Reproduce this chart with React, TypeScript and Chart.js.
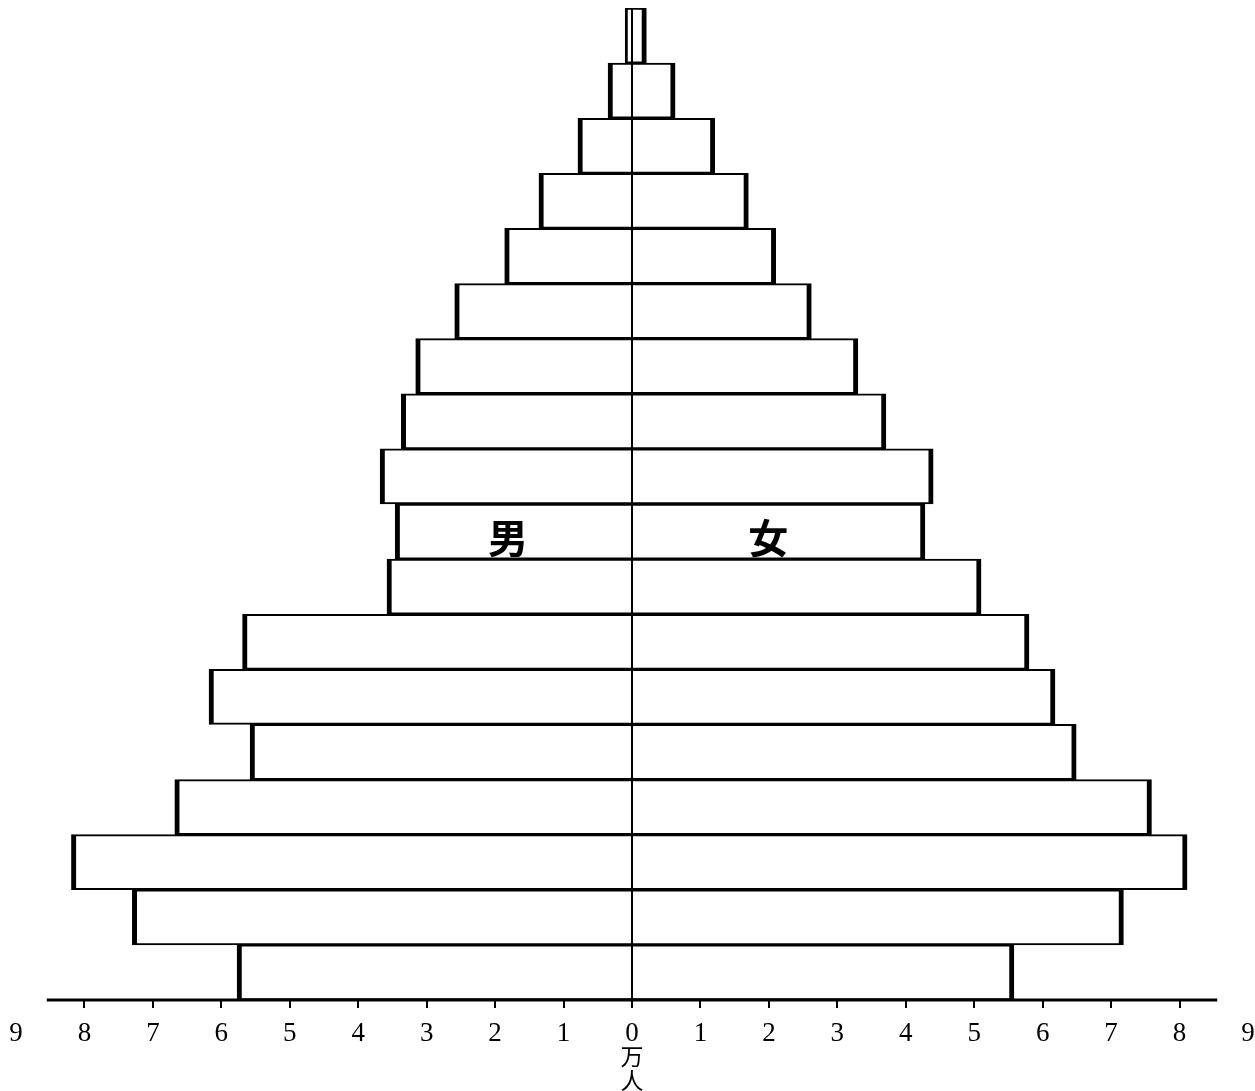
import React, { useEffect, useRef } from "react";
import { Chart, registerables } from "chart.js";

Chart.register(...registerables);

// Age groups, youngest first (drawn bottom to top)
const ageGroups = [
  "0-4", "5-9", "10-14", "15-19", "20-24", "25-29", "30-34", "35-39", "40-44",
  "45-49", "50-54", "55-59", "60-64", "65-69", "70-74", "75-79", "80-84", "85+",
];

// Population in 万人 (10,000 persons)
const maleValues = [5.77, 7.3, 8.19, 6.68, 5.58, 6.18, 5.69, 3.58, 3.46, 3.68, 3.37, 3.16, 2.59, 1.86, 1.36, 0.79, 0.35, 0.1];
const femaleValues = [5.58, 7.18, 8.11, 7.59, 6.49, 6.18, 5.8, 5.1, 4.28, 4.4, 3.71, 3.3, 2.62, 2.1, 1.7, 1.21, 0.63, 0.21];

const axisMin = -9;
const axisMax = 9;
const axisLineExtent = 8.55;
const maleLabel = "男";
const femaleLabel = "女";
const unitLabel = ["万", "人"];
const labelRow = "40-44";
const maleLabelValue = -1.81;
const femaleLabelValue = 1.99;

const overlayPlugin = {
  id: "overlay",
  afterDraw(chart: any) {
    const { ctx } = chart;
    const x = chart.scales.x;
    const y = chart.scales.y;
    ctx.save();
    // bottom axis line (shorter than the scale range)
    ctx.strokeStyle = "#000";
    ctx.lineWidth = 3;
    ctx.beginPath();
    ctx.moveTo(x.getPixelForValue(-axisLineExtent), x.top);
    ctx.lineTo(x.getPixelForValue(axisLineExtent), x.top);
    ctx.stroke();

    ctx.fillStyle = "#000";
    ctx.textAlign = "center";
    ctx.textBaseline = "middle";
    const rowY = y.getPixelForValue(ageGroups.indexOf(labelRow)) + 6;
    ctx.font = 'bold 40px "Noto Sans CJK JP"';
    ctx.fillText(maleLabel, x.getPixelForValue(maleLabelValue), rowY);
    ctx.fillText(femaleLabel, x.getPixelForValue(femaleLabelValue), rowY);

    ctx.font = '23px "Noto Sans CJK SC"';
    const cx = x.getPixelForValue(0);
    ctx.fillText(unitLabel[0], cx, x.top + 56);
    ctx.fillText(unitLabel[1], cx, x.top + 80);
    ctx.restore();
  },
};

export default function App() {
  const canvasRef = useRef<HTMLCanvasElement | null>(null);

  useEffect(() => {
    const canvas = canvasRef.current;
    if (!canvas) return;
    const barBorder = { top: 2, bottom: 2, left: 5, right: 5 };
    const chart = new Chart(canvas, {
      type: "bar",
      data: {
        labels: ageGroups,
        datasets: [
          {
            label: maleLabel,
            data: maleValues.map((v) => -v),
            backgroundColor: "#fff",
            borderColor: "#000",
            borderWidth: barBorder,
            borderSkipped: "start",
            categoryPercentage: 1,
            barPercentage: 1,
          },
          {
            label: femaleLabel,
            data: femaleValues,
            backgroundColor: "#fff",
            borderColor: "#000",
            borderWidth: barBorder,
            borderSkipped: "start",
            categoryPercentage: 1,
            barPercentage: 1,
          },
        ],
      },
      options: {
        indexAxis: "y",
        animation: false,
        responsive: false,
        maintainAspectRatio: false,
        layout: { padding: { top: 8, left: 16, right: 7, bottom: 0 } },
        plugins: {
          legend: { display: false },
          tooltip: { enabled: false },
        },
        scales: {
          x: {
            type: "linear",
            min: axisMin,
            max: axisMax,
            stacked: true,
            border: { display: false },
            afterFit: (scale: any) => {
              scale.height = 91;
              scale.paddingLeft = 0;
              scale.paddingRight = 0;
            },
            grid: {
              z: 1,
              drawOnChartArea: true,
              drawTicks: true,
              tickLength: 8,
              tickWidth: 2,
              lineWidth: (ctx: any) => (ctx.tick && ctx.tick.value === 0 ? 2 : 0),
              color: (ctx: any) => (ctx.tick && ctx.tick.value === 0 ? "#000" : "rgba(0,0,0,0)"),
              tickColor: (ctx: any) =>
                ctx.tick && Math.abs(ctx.tick.value) < 8.6 ? "#000" : "rgba(0,0,0,0)",
            },
            ticks: {
              stepSize: 1,
              autoSkip: false,
              maxRotation: 0,
              padding: 10,
              color: "#000",
              font: { family: '"Liberation Serif", serif', size: 27 },
              callback: (v: any) => String(Math.abs(Number(v))),
            },
          },
          y: {
            type: "category",
            stacked: true,
            reverse: true,
            display: false,
            grid: { display: false },
          },
        },
      },
      plugins: [overlayPlugin],
    });
    return () => chart.destroy();
  }, []);

  return (
    <div style={{ position: "fixed", left: 0, top: 0, width: 1255, height: 1091, background: "#fff" }}>
      <canvas ref={canvasRef} width={1255} height={1091} style={{ display: "block" }} />
    </div>
  );
}
